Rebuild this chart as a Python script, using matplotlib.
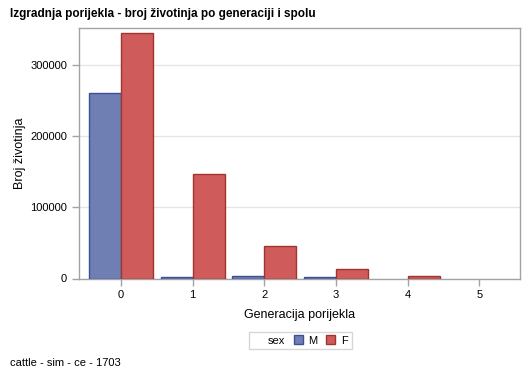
import matplotlib
matplotlib.use("Agg")
import matplotlib.pyplot as plt
from matplotlib.patches import Rectangle
import numpy as np

plt.rcParams['font.family'] = ['Liberation Sans', 'DejaVu Sans']

generations = [0, 1, 2, 3, 4, 5]
male = [260500, 2400, 4200, 2500, None, None]
female = [344500, 147500, 46000, 13500, 4000, None]
yticks = [0, 100000, 200000, 300000]

blue, blue_edge = '#6F7EB3', '#3E4F94'
red, red_edge = '#D05B5B', '#A03530'
spine_c = '#A0A4A8'

fig = plt.figure(figsize=(5.29, 3.78), dpi=100)
ax = fig.add_axes([79/529, 1 - 278.5/378, (520-79)/529, (278.5-28)/378])

x = np.arange(len(generations))
m = np.array([np.nan if v is None else v for v in male], dtype=float)
f = np.array([np.nan if v is None else v for v in female], dtype=float)
w = 0.447
ax.bar(x - w/2, m, width=w, color=blue, edgecolor=blue_edge, linewidth=1.0, label='M', zorder=3)
ax.bar(x + w/2, f, width=w, color=red, edgecolor=red_edge, linewidth=1.0, label='F', zorder=3)

ax.set_xlim(-0.587, 5.57)
ax.set_ylim(0, 352000)
ax.set_xticks(x)
ax.set_xticklabels([str(g) for g in generations])
ax.set_yticks(yticks)
ax.set_yticklabels([str(v) for v in yticks])
ax.yaxis.grid(True, color='#E4E4E4', linewidth=0.9, zorder=0)
ax.set_axisbelow(True)
for s in ax.spines.values():
    s.set_color(spine_c)
    s.set_linewidth(1.0)
ax.tick_params(axis='both', colors=spine_c, labelcolor='black', labelsize=8, length=5, width=1.0)

ax.set_xlabel('Generacija porijekla', fontsize=9, labelpad=6)
ax.set_ylabel('Broj životinja', fontsize=9, labelpad=3)

fig.text(10/529, 1 - 14/378, 'Izgradnja porijekla - broj životinja po generaciji i spolu',
         fontsize=8.5, fontweight='bold', va='center', ha='left')
fig.text(10/529, 1 - 363/378, 'cattle - sim - ce - 1703', fontsize=8, va='center', ha='left')

hdl = [Rectangle((0, 0), 1, 1, visible=False),
       Rectangle((0, 0), 1, 1, facecolor=blue, edgecolor=blue_edge),
       Rectangle((0, 0), 1, 1, facecolor=red, edgecolor=red_edge)]
leg = fig.legend(hdl, ['sex', 'M', 'F'], ncol=3, loc='center', bbox_to_anchor=(300.5/529, 1 - 340.5/378),
                 fontsize=8, frameon=True, fancybox=False, handlelength=0.8, handleheight=0.8,
                 handletextpad=0.5, columnspacing=0.8, borderpad=0.35)
leg.get_frame().set_edgecolor('#CCCCCC')
leg.get_frame().set_linewidth(1.0)

fig.savefig('out.png', dpi=100)
